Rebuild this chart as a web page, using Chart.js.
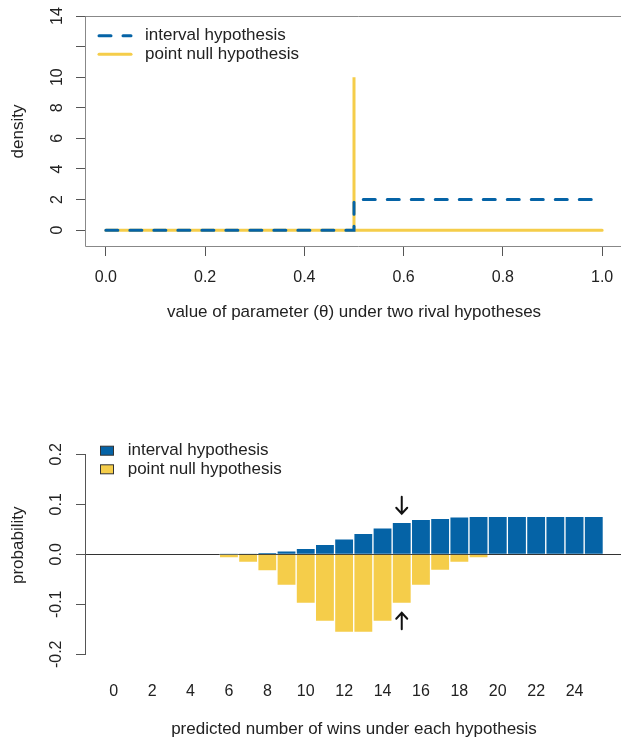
<!DOCTYPE html>
<html>
<head>
<meta charset="utf-8">
<title>interval vs point null</title>
<script src="https://cdn.jsdelivr.net/npm/chart.js@4.4.1/dist/chart.umd.min.js"></script>
<style>
    html, body { margin: 0; padding: 0; width: 621px; height: 740px; overflow: hidden; background: #fff; }
    .panel { position: absolute; left: 0; width: 640px; height: 370px; }
    #panel-top { top: 0; }
    #panel-bottom { top: 370px; }
</style>
</head>
<body>
<div class="panel" id="panel-top"><canvas id="density-chart"></canvas></div>
<div class="panel" id="panel-bottom"><canvas id="wins-chart"></canvas></div>
<script>
/* ── Верхня панель: щільності параметра ── */
var thetaTicks    = [ 0, 0.2, 0.4, 0.6, 0.8, 1.0 ];
var densityTicks  = [ 0, 2, 4, 6, 8, 10, 12, 14 ];
var densityLabels = [ '0', '2', '4', '6', '8', '10', '', '14' ];
var intervalTheta = [ 0, 0.5, 0.5, 1 ];
var intervalDens  = [ 0, 0, 2, 2 ];
var nullTheta     = [ 0, 0.5, 0.5, 0.5, 1 ];
var nullDens      = [ 0, 0, 10, 0, 0 ];

/* ── Нижня панель: передбачена кількість перемог ── */
var wins         = [ 0, 1, 2, 3, 4, 5, 6, 7, 8, 9, 10, 11, 12, 13, 14, 15, 16, 17, 18, 19, 20, 21, 22, 23, 24, 25 ];
var intervalProb = [ 0, 0, 0, 0, 0, 0, 0.0005, 0.001, 0.003, 0.007, 0.012, 0.020, 0.031, 0.042, 0.053, 0.064,
                     0.070, 0.072, 0.075, 0.076, 0.076, 0.076, 0.076, 0.076, 0.076, 0.076 ];
var nullProb     = [ 0, 0, 0, 0, 0, 0, -0.007, -0.016, -0.033, -0.062, -0.098, -0.134, -0.156, -0.156, -0.134, -0.098,
                     -0.062, -0.032, -0.016, -0.007, 0, 0, 0, 0, 0, 0 ];
var winsTicks    = [ 0, 2, 4, 6, 8, 10, 12, 14, 16, 18, 20, 22, 24 ];
var probTicks    = [ -0.2, -0.1, 0, 0.1, 0.2 ];
var probLabels   = [ '-0.2', '-0.1', '0.0', '0.1', '0.2' ];
var arrowWins    = [ 15, 15 ];
var arrowFrom    = [ 0.115, -0.150 ];
var arrowTo      = [ 0.081, -0.117 ];

( function () {
    'use strict';

    var BLUE   = '#0563a6';
    var YELLOW = '#f5cd4a';
    var INK    = '#222';
    var AXIS   = '#555';
    var FAMILY = '"Liberation Sans", Arial, sans-serif';

    Chart.defaults.font.family = FAMILY;
    Chart.defaults.font.size   = 16;
    Chart.defaults.color       = INK;

    function points( xs, ys ) {
        return xs.map( function ( x, i ) { return { x: x, y: ys[ i ] }; } );
    }

    function fixedTicks( values ) {
        return function ( scale ) {
            scale.ticks = values.map( function ( v ) { return { value: v }; } );
        };
    }

    // фіксований розмір осі, без автоматичних відступів під підписи
    function fixedSize( w, h ) {
        return function ( s ) {
            if ( w !== null ) s.width = w;
            if ( h !== null ) s.height = h;
            s.paddingTop = s.paddingBottom = s.paddingLeft = s.paddingRight = 0;
        };
    }

    /* Легенда у стилі R (без рамки, ліворуч угорі) */
    var rLegend = {
        id: 'rLegend',
        afterDraw: function ( chart, args, o ) {
            var ctx = chart.ctx;
            ctx.save();
            ctx.font = '17px ' + FAMILY;
            ctx.textBaseline = 'middle';
            chart.data.datasets.forEach( function ( ds, i ) {
                var y = o.top + i * o.rowHeight;
                if ( o.kind === 'line' ) {
                    ctx.strokeStyle = ds.borderColor;
                    ctx.lineWidth   = ds.borderWidth;
                    ctx.lineCap     = 'round';
                    ctx.setLineDash( ds.borderDash || [] );
                    ctx.beginPath();
                    ctx.moveTo( o.left, y );
                    ctx.lineTo( o.left + o.sample, y );
                    ctx.stroke();
                    ctx.setLineDash( [] );
                } else {
                    ctx.fillStyle   = ds.backgroundColor;
                    ctx.strokeStyle = '#333';
                    ctx.lineWidth   = 1;
                    ctx.fillRect( o.left + 0.5, y - 4.5, o.sample, 9 );
                    ctx.strokeRect( o.left + 0.5, y - 4.5, o.sample, 9 );
                }
                ctx.fillStyle = INK;
                ctx.fillText( ds.label, o.textLeft, y );
            } );
            ctx.restore();
        }
    };

    /* Рамка навколо області графіка (права сторона за межами кадру) */
    var plotBox = {
        id: 'plotBox',
        beforeDatasetsDraw: function ( chart ) {
            var a = chart.chartArea, ctx = chart.ctx;
            var l = Math.round( a.left ) - 0.5, t = Math.round( a.top ) + 0.5, b = Math.round( a.bottom ) - 0.5;
            ctx.save();
            ctx.strokeStyle = '#888';
            ctx.lineWidth = 1;
            ctx.beginPath();
            ctx.moveTo( a.right + 10, t );
            ctx.lineTo( l, t );
            ctx.lineTo( l, b );
            ctx.lineTo( a.right + 10, b );
            ctx.stroke();
            ctx.restore();
        }
    };

    /* Вісь Y лише між першою та останньою позначкою */
    var axisSegment = {
        id: 'axisSegment',
        beforeDatasetsDraw: function ( chart ) {
            var y = chart.scales.y, ctx = chart.ctx;
            var x = Math.round( chart.chartArea.left ) - 0.5;
            ctx.save();
            ctx.strokeStyle = AXIS;
            ctx.lineWidth = 1;
            ctx.beginPath();
            ctx.moveTo( x, y.getPixelForValue( probTicks[ probTicks.length - 1 ] ) );
            ctx.lineTo( x, y.getPixelForValue( probTicks[ 0 ] ) );
            ctx.stroke();
            ctx.restore();
        }
    };

    /* Стрілки над/під стовпцем */
    var arrows = {
        id: 'arrows',
        afterDatasetsDraw: function ( chart ) {
            var xs = chart.scales.x, ys = chart.scales.y, ctx = chart.ctx;
            ctx.save();
            ctx.strokeStyle = '#111';
            ctx.lineWidth = 2;
            ctx.lineCap = 'round';
            arrowWins.forEach( function ( w, i ) {
                var x  = xs.getPixelForValue( w );
                var y0 = ys.getPixelForValue( arrowFrom[ i ] );
                var y1 = ys.getPixelForValue( arrowTo[ i ] );
                var d  = y1 > y0 ? 1 : -1;
                ctx.beginPath();
                ctx.moveTo( x, y0 );
                ctx.lineTo( x, y1 );
                ctx.moveTo( x - 5.5, y1 - d * 6 );
                ctx.lineTo( x, y1 );
                ctx.lineTo( x + 5.5, y1 - d * 6 );
                ctx.stroke();
            } );
            ctx.restore();
        }
    };

    new Chart( document.getElementById( 'density-chart' ), {
        type: 'line',
        data: {
            datasets: [ {
                label:          'interval hypothesis',
                data:           points( intervalTheta, intervalDens ),
                borderColor:    BLUE,
                borderWidth:    3,
                borderDash:     [ 12, 12 ],
                borderCapStyle: 'round',
                pointRadius:    0,
                tension:        0,
                fill:           false,
            }, {
                label:          'point null hypothesis',
                data:           points( nullTheta, nullDens ),
                borderColor:    YELLOW,
                borderWidth:    3,
                borderCapStyle: 'round',
                pointRadius:    0,
                tension:        0,
                fill:           false,
            } ],
        },
        options: {
            responsive:          true,
            maintainAspectRatio: false,
            animation:           false,
            events:              [],
            layout: { padding: { top: 16, right: 18, bottom: 0, left: 0 } },
            plugins: {
                legend:  { display: false },
                tooltip: { enabled: false },
                rLegend: { kind: 'line', left: 99, top: 35.7, rowHeight: 18.6, sample: 32, textLeft: 145 },
            },
            scales: {
                x: {
                    type: 'linear',
                    min:  -0.04,
                    max:  1.04,
                    afterBuildTicks: fixedTicks( thetaTicks ),
                    afterFit: fixedSize( null, 123 ),
                    border: { display: false },
                    grid:  { drawOnChartArea: false, tickLength: 9, tickColor: AXIS },
                    ticks: { padding: 12, maxRotation: 0, callback: function ( v ) { return v.toFixed( 1 ); } },
                    title: { display: true, text: 'value of parameter (θ) under two rival hypotheses',
                             font: { size: 17 }, padding: { top: 0, bottom: 47 } },
                },
                y: {
                    min: -1.1,
                    max: 14,
                    afterBuildTicks: fixedTicks( densityTicks ),
                    afterFit: fixedSize( 86, null ),
                    border: { display: false },
                    grid:  { drawOnChartArea: false, tickLength: 10, tickColor: AXIS },
                    ticks: { padding: 10, minRotation: 90, maxRotation: 90, crossAlign: 'center',
                             callback: function ( v, i ) { return densityLabels[ i ]; } },
                    title: { display: true, text: 'density', font: { size: 17 }, padding: { top: 8.1, bottom: 0 } },
                },
            },
        },
        plugins: [ plotBox, rLegend ],
    } );

    new Chart( document.getElementById( 'wins-chart' ), {
        type: 'bar',
        data: {
            datasets: [ {
                label:              'interval hypothesis',
                data:               points( wins, intervalProb ),
                backgroundColor:    BLUE,
                borderColor:        'rgba(255,255,255,0.9)',
                borderWidth:        1,
                grouped:            false,
                barPercentage:      1,
                categoryPercentage: 1,
            }, {
                label:              'point null hypothesis',
                data:               points( wins, nullProb ),
                backgroundColor:    YELLOW,
                borderColor:        'rgba(255,255,255,0.9)',
                borderWidth:        1,
                grouped:            false,
                barPercentage:      1,
                categoryPercentage: 1,
            } ],
        },
        options: {
            responsive:          true,
            maintainAspectRatio: false,
            animation:           false,
            events:              [],
            layout: { padding: { top: 66.3, right: 18, bottom: 0, left: 0 } },
            plugins: {
                legend:  { display: false },
                tooltip: { enabled: false },
                rLegend: { kind: 'box', left: 100, top: 80.7, rowHeight: 18.6, sample: 13, textLeft: 127.7 },
            },
            scales: {
                x: {
                    type:   'linear',
                    offset: false,
                    min:    -1.443,
                    max:    26.47,
                    afterBuildTicks: fixedTicks( winsTicks ),
                    afterFit: fixedSize( null, 85.7 ),
                    border: { display: false },
                    grid:  { display: false, drawTicks: false, tickLength: 0, offset: false },
                    ticks: { padding: 28, maxRotation: 0 },
                    title: { display: true, text: 'predicted number of wins under each hypothesis',
                             font: { size: 17 }, padding: { top: 0, bottom: 0 } },
                },
                y: {
                    min: -0.2,
                    max: 0.236,
                    afterBuildTicks: fixedTicks( probTicks ),
                    afterFit: fixedSize( 86, null ),
                    border: { display: false },
                    grid: {
                        drawOnChartArea: true,
                        tickLength:      10,
                        tickColor:       AXIS,
                        color: function ( c ) {
                            return c.tick && c.tick.value === 0 ? '#333' : 'rgba(0,0,0,0)';
                        },
                    },
                    ticks: { padding: 5.5, minRotation: 90, maxRotation: 90, crossAlign: 'center',
                             callback: function ( v, i ) { return probLabels[ i ]; } },
                    title: { display: true, text: 'probability', font: { size: 17 }, padding: { top: 8.1, bottom: 0 } },
                },
            },
        },
        plugins: [ axisSegment, arrows, rLegend ],
    } );
}() );
</script>
</body>
</html>
